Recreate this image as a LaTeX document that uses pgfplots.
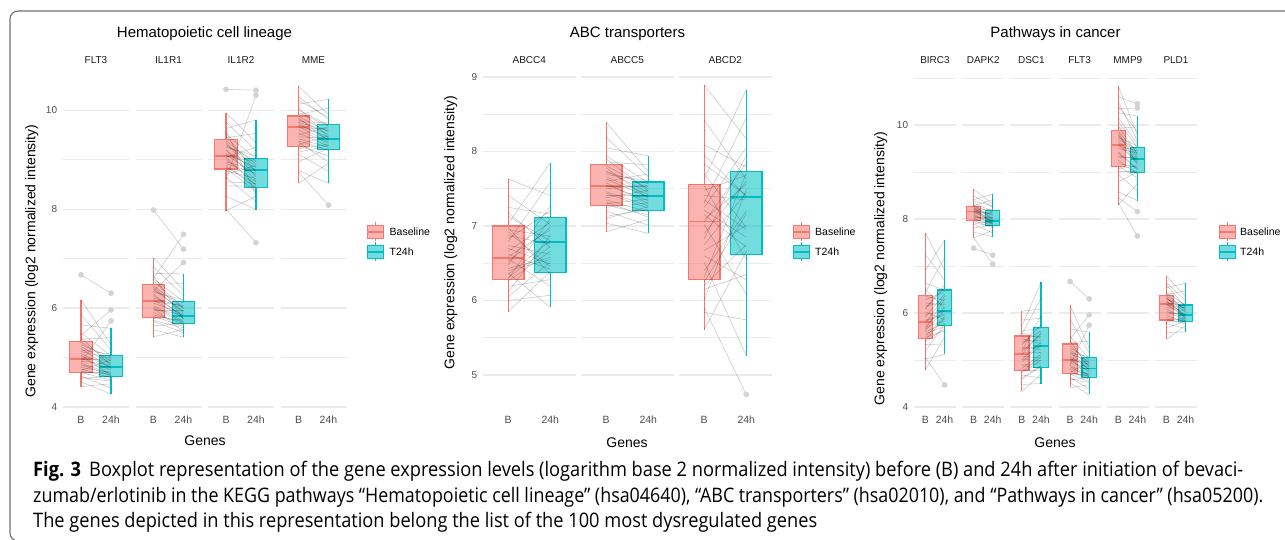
\documentclass[border=0pt]{standalone}
\usepackage{fontspec}
\setmainfont{Liberation Sans}
\newfontfamily\capfont{Open Sans}
\usepackage{graphicx}
\usepackage{pgfplots}
\usepackage{pgfplotstable}
\pgfplotsset{compat=1.18}

\definecolor{cB}{HTML}{F8766D}
\definecolor{cT}{HTML}{00BFC4}
\definecolor{gridc}{HTML}{EBEBEB}
\definecolor{tickc}{HTML}{4D4D4D}
\definecolor{stripc}{HTML}{1A1A1A}
\definecolor{outc}{HTML}{D3D3D3}
\definecolor{framec}{HTML}{6E6E6E}

% paired values per patient: b = baseline, t = 24h
\pgfplotstableread{
b t
4.41 4.47
4.51 4.26
4.58 4.62
4.63 4.38
4.68 4.71
4.70 4.54
4.77 4.59
4.83 4.82
4.89 4.67
4.96 4.97
4.99 4.75
5.08 4.80
5.15 5.07
5.22 4.88
5.31 4.93
5.37 5.40
5.50 5.03
5.66 5.59
5.87 5.15
6.16 5.26
6.67 6.30
5.45 5.96
4.90 5.74
4.72 4.66
4.80 4.70
4.86 4.63
4.93 4.85
5.02 4.90
5.05 4.64
5.12 4.99
5.18 4.78
5.26 5.01
4.74 4.95
5.40 4.84
4.60 4.52
}\tFLT

\pgfplotstableread{
b t
5.42 5.57
5.56 5.41
5.64 5.69
5.73 5.50
5.79 5.76
5.83 5.63
5.91 5.67
5.98 5.86
6.05 5.73
6.13 6.05
6.17 5.79
6.25 5.83
6.32 6.17
6.38 5.93
6.45 5.99
6.51 6.50
6.59 6.13
6.70 6.69
6.83 6.25
7.02 6.36
7.98 7.19
6.60 7.49
6.35 6.92
5.86 5.72
5.95 5.95
6.02 5.70
6.10 5.88
6.20 6.02
6.28 5.80
6.35 6.10
6.42 5.90
5.75 5.60
6.55 6.00
6.65 5.77
6.00 5.52
}\tILa

\pgfplotstableread{
b t
7.97 8.26
8.26 7.99
8.47 8.46
8.64 8.15
8.77 8.62
8.82 8.35
8.89 8.42
8.95 8.80
9.00 8.55
9.07 8.96
9.10 8.69
9.18 8.78
9.25 9.07
9.31 8.86
9.38 8.91
9.44 9.53
9.52 9.02
9.63 9.80
9.76 9.18
9.95 9.34
10.42 10.40
8.00 7.32
8.60 10.30
8.85 8.50
8.92 8.72
9.04 8.48
9.12 8.84
9.20 8.58
9.28 8.98
9.35 8.65
8.70 8.88
9.48 8.75
9.58 8.30
8.55 8.52
9.05 9.25
}\tILb

\pgfplotstableread{
b t
8.52 8.93
8.78 8.52
8.96 9.22
9.11 8.76
9.22 9.31
9.28 9.07
9.38 9.18
9.46 9.43
9.54 9.27
9.64 9.62
9.67 9.35
9.73 9.40
9.77 9.74
9.81 9.50
9.87 9.56
9.91 10.04
10.00 9.70
10.12 10.22
10.27 9.81
10.48 9.91
8.75 8.08
9.30 9.48
9.42 9.25
9.50 9.66
9.60 9.33
9.70 9.45
9.75 9.58
9.84 9.38
9.95 9.68
9.15 9.28
10.05 9.44
9.35 8.95
10.20 9.85
}\tMME

\pgfplotstableread{
b t
5.85 6.39
6.00 6.07
6.11 6.88
6.19 6.28
6.26 6.66
6.29 7.10
6.37 5.91
6.43 6.58
6.48 7.27
6.56 6.19
6.59 6.95
6.70 6.49
6.79 7.59
6.87 6.76
6.98 6.35
7.03 7.85
7.13 6.80
7.25 7.16
7.41 7.02
7.63 7.41
6.31 6.72
6.40 6.55
6.52 6.98
6.62 6.42
6.66 7.05
6.74 6.62
6.83 7.20
6.92 6.45
6.95 6.86
6.35 6.80
7.18 6.71
6.05 6.52
}\tCCa

\pgfplotstableread{
b t
6.92 7.09
7.04 6.90
7.13 7.22
7.20 7.01
7.25 7.31
7.28 7.15
7.35 7.19
7.41 7.41
7.46 7.27
7.53 7.53
7.55 7.34
7.63 7.39
7.69 7.61
7.74 7.45
7.81 7.50
7.86 7.82
7.94 7.58
8.05 7.94
8.19 7.66
8.39 7.73
7.30 7.36
7.38 7.48
7.44 7.24
7.50 7.55
7.58 7.30
7.66 7.42
7.72 7.57
7.78 7.37
7.32 7.12
7.90 7.47
7.60 7.70
7.10 7.26
}\tCCb

\pgfplotstableread{
b t
5.61 6.66
5.84 5.74
6.01 7.49
6.15 6.35
6.25 7.16
6.32 7.71
6.51 5.26
6.67 7.01
6.83 7.95
7.02 6.08
7.09 7.56
7.21 6.85
7.31 8.45
7.41 7.35
7.54 6.55
7.63 8.83
7.83 7.41
8.09 7.79
8.42 7.63
8.89 8.17
5.90 4.74
6.40 7.20
6.60 6.28
6.90 7.60
7.15 6.72
7.25 8.05
7.35 6.95
7.48 7.68
6.75 7.45
7.70 6.98
6.20 6.75
7.95 7.40
7.05 7.85
}\tCD

\pgfplotstableread{
b t
4.79 5.49
5.02 5.12
5.19 5.76
5.33 5.34
5.43 5.89
5.48 5.62
5.56 5.71
5.63 6.06
5.70 5.83
5.78 6.36
5.83 5.95
5.97 6.03
6.09 6.54
6.21 6.18
6.35 6.27
6.45 7.18
6.64 6.48
6.91 7.55
7.24 6.70
7.70 6.91
5.05 4.47
5.50 5.92
5.60 5.78
5.72 6.12
5.85 5.98
5.92 6.40
6.02 5.86
6.15 6.22
6.28 6.45
5.40 5.66
6.50 6.10
5.65 6.30
6.10 6.60
}\tBIR

\pgfplotstableread{
b t
7.59 7.76
7.72 7.62
7.81 7.87
7.89 7.70
7.94 7.91
7.97 7.81
8.02 7.85
8.06 7.97
8.10 7.89
8.15 8.11
8.17 7.93
8.19 7.96
8.21 8.20
8.23 8.03
8.25 8.07
8.28 8.41
8.33 8.17
8.41 8.53
8.50 8.25
8.63 8.32
7.38 7.23
7.60 7.04
7.99 7.92
8.04 8.04
8.08 7.88
8.12 8.14
8.14 7.95
8.18 8.00
8.20 8.09
8.24 7.90
8.27 8.15
8.30 7.98
7.92 7.84
8.38 8.28
}\tDAP

\pgfplotstableread{
b t
4.33 4.70
4.48 4.50
4.59 4.86
4.68 4.62
4.75 5.07
4.79 4.77
4.88 4.82
4.95 5.32
5.02 4.98
5.11 5.58
5.15 5.16
5.24 5.28
5.32 5.75
5.40 5.42
5.49 5.50
5.54 6.32
5.62 5.68
5.72 6.65
5.85 5.89
6.04 6.08
4.82 5.12
4.90 4.92
5.00 5.38
5.08 5.04
5.18 5.55
5.28 5.22
5.36 5.62
5.45 5.35
4.72 5.00
5.58 5.46
5.20 5.95
4.62 4.88
}\tDSC

\pgfplotstableread{
b t
8.30 8.75
8.58 8.39
8.79 9.00
8.95 8.60
9.07 9.13
9.13 8.87
9.25 8.96
9.34 9.28
9.43 9.07
9.55 9.45
9.59 9.19
9.66 9.26
9.73 9.56
9.79 9.35
9.86 9.40
9.93 9.96
10.07 9.52
10.26 10.19
10.50 9.66
10.83 9.79
10.60 10.45
10.35 10.36
8.45 8.16
8.35 7.64
9.18 9.10
9.30 9.32
9.40 9.05
9.50 9.40
9.62 9.22
9.70 9.48
9.76 9.30
9.84 9.16
9.98 9.38
10.15 9.60
9.02 9.02
10.40 9.85
}\tMMP

\pgfplotstableread{
b t
5.44 5.73
5.58 5.60
5.69 5.82
5.77 5.67
5.83 5.89
5.87 5.77
5.95 5.80
6.02 5.97
6.09 5.86
6.17 6.11
6.20 5.92
6.24 5.95
6.28 6.19
6.32 6.02
6.36 6.07
6.39 6.47
6.45 6.16
6.54 6.63
6.64 6.26
6.79 6.35
5.90 5.84
5.98 6.00
6.05 5.83
6.12 6.04
6.18 5.90
6.22 6.14
6.26 5.94
6.30 6.09
6.34 5.88
5.80 5.85
6.42 6.05
6.60 6.12
}\tPLD

\pgfplotsset{
  facet/.style={
    scale only axis, anchor=south west, height=339.5pt,
    xmin=0.4, xmax=2.6, xtick={1,2}, xticklabels={B,24h},
    axis line style={draw=none}, tick style={draw=none},
    ymajorgrids, yminorgrids,
    major grid style={gridc, line width=1.1pt},
    minor grid style={gridc, line width=0.55pt},
    /pgf/number format/assume math mode=true,
    xticklabel style={font=\fontsize{10.5}{12}\selectfont, text=tickc, yshift=-2.8pt},
    yticklabel style={font=\fontsize{10}{12}\selectfont, text=tickc, xshift=-2.4pt},
    every axis title/.style={at={(0.5,1)}, anchor=base, yshift=6pt,
      font=\fontsize{10}{12}\selectfont, text=stripc},
  },
  fpa/.style={ymin=3.95, ymax=10.81, ytick={4,6,8,10}, minor ytick={5,7,9,11}},
  fpb/.style={ymin=4.537, ymax=9.094, ytick={5,6,7,8,9}, minor ytick={5.5,6.5,7.5,8.5}},
  fpc/.style={ymin=3.947, ymax=11.17, ytick={4,6,8,10}, minor ytick={5,7,9,11}},
  noy/.style={yticklabels={,,}},
  pair/.style={draw=black, line width=0.6pt, draw opacity=0.2},
}

% one box: colour, left, centre, right, lower whisker, q1, median, q3, upper whisker
\newcommand{\bx}[9]{%
  \addplot[draw=#1, line width=1.1pt] coordinates {(#3,#5)(#3,#6)};
  \addplot[draw=#1, line width=1.1pt] coordinates {(#3,#8)(#3,#9)};
  \addplot[draw=#1, fill=#1, fill opacity=0.55, line width=1.1pt, line cap=rect]
    coordinates {(#2,#6)(#4,#6)(#4,#8)(#2,#8)(#2,#6)};
  \addplot[draw=#1, line width=1.8pt] coordinates {(#2,#7)(#4,#7)};}
\newcommand{\bB}[5]{\bx{cB}{0.625}{1}{1.375}{#1}{#2}{#3}{#4}{#5}}
\newcommand{\bT}[5]{\bx{cT}{1.625}{2}{2.375}{#1}{#2}{#3}{#4}{#5}}
\newcommand{\pairs}[1]{\addplot[pair, quiver={u=1, v=\thisrow{t}-\thisrow{b}}] table[x expr=1, y=b] {#1};}
\newcommand{\outl}[1]{\addplot[only marks, mark=*, mark size=2.6pt, color=outc, mark options={draw=none}] coordinates {#1};}
\newcommand{\lkey}[3]{%
  \begin{scope}[shift={(#1,#2)}]
    \draw[#3, line width=1.1pt] (8,6.2) -- (8,9.5) (8,-6.2) -- (8,-9.5);
    \draw[#3, line width=1.1pt, fill=#3, fill opacity=0.55] (0,-6.2) rectangle (16,6.2);
    \draw[#3, line width=1.6pt] (0,0) -- (16,0);
  \end{scope}}
\newcommand{\legendat}[2]{%
  \lkey{#1}{308}{cB}\lkey{#1}{288}{cT}
  \node[anchor=base west, inner sep=0, font=\fontsize{10.5}{12}\selectfont] at (#2,304.3) {Baseline};
  \node[anchor=base west, inner sep=0, font=\fontsize{10.5}{12}\selectfont] at (#2,284.8) {T24h};}

\begin{document}
\begin{tikzpicture}
\useasboundingbox (0pt,0pt) rectangle (1285pt,540pt);

% ---------- Hematopoietic cell lineage
\begin{axis}[facet, fpa, at={(63pt,130.5pt)}, width=66pt, title={FLT3}]
\bB{4.41}{4.69}{4.97}{5.33}{6.16}
\bT{4.26}{4.61}{4.81}{5.04}{5.59}
\pairs{\tFLT}
\outl{(1,6.67)(2,6.30)(2,5.96)(2,5.74)}
\end{axis}
\begin{axis}[facet, fpa, noy, at={(135.5pt,130.5pt)}, width=66pt, title={IL1R1}]
\bB{5.42}{5.81}{6.15}{6.48}{7.02}
\bT{5.41}{5.68}{5.84}{6.14}{6.69}
\pairs{\tILa}
\outl{(1,7.98)(2,7.49)(2,7.19)(2,6.92)}
\end{axis}
\begin{axis}[facet, fpa, noy, at={(208pt,130.5pt)}, width=66pt, title={IL1R2}]
\bB{7.97}{8.81}{9.08}{9.41}{9.95}
\bT{7.99}{8.44}{8.79}{9.03}{9.80}
\pairs{\tILb}
\outl{(1,10.42)(2,10.40)(2,10.30)(2,7.32)}
\end{axis}
\begin{axis}[facet, fpa, noy, at={(280.5pt,130.5pt)}, width=66pt, title={MME}]
\bB{8.52}{9.26}{9.66}{9.88}{10.48}
\bT{8.52}{9.21}{9.41}{9.71}{10.22}
\pairs{\tMME}
\outl{(2,8.08)}
\end{axis}

% ---------- ABC transporters
\begin{axis}[facet, fpb, at={(483pt,130.5pt)}, width=92.5pt, title={ABCC4}]
\bB{5.85}{6.28}{6.57}{7.00}{7.63}
\bT{5.91}{6.37}{6.78}{7.12}{7.85}
\pairs{\tCCa}
\end{axis}
\begin{axis}[facet, fpb, noy, at={(581pt,130.5pt)}, width=92.5pt, title={ABCC5}]
\bB{6.92}{7.27}{7.54}{7.83}{8.39}
\bT{6.90}{7.21}{7.40}{7.59}{7.94}
\pairs{\tCCb}
\end{axis}
\begin{axis}[facet, fpb, noy, at={(679pt,130.5pt)}, width=92.5pt, title={ABCD2}]
\bB{5.61}{6.28}{7.06}{7.56}{8.89}
\bT{5.26}{6.62}{7.39}{7.73}{8.83}
\pairs{\tCD}
\outl{(2,4.74)}
\end{axis}

% ---------- Pathways in cancer
\begin{axis}[facet, fpc, at={(914pt,130.5pt)}, width=42pt, title={BIRC3}]
\bB{4.79}{5.46}{5.80}{6.38}{7.70}
\bT{5.12}{5.74}{6.04}{6.49}{7.55}
\pairs{\tBIR}
\outl{(2,4.47)}
\end{axis}
\begin{axis}[facet, fpc, noy, at={(962.2pt,130.5pt)}, width=42pt, title={DAPK2}]
\bB{7.59}{7.96}{8.16}{8.26}{8.63}
\bT{7.62}{7.86}{7.96}{8.18}{8.53}
\pairs{\tDAP}
\outl{(1,7.38)(2,7.23)(2,7.04)}
\end{axis}
\begin{axis}[facet, fpc, noy, at={(1010.4pt,130.5pt)}, width=42pt, title={DSC1}]
\bB{4.33}{4.77}{5.13}{5.51}{6.04}
\bT{4.50}{4.84}{5.30}{5.70}{6.65}
\pairs{\tDSC}
\end{axis}
\begin{axis}[facet, fpc, noy, at={(1058.6pt,130.5pt)}, width=42pt, title={FLT3}]
\bB{4.43}{4.72}{5.00}{5.34}{6.17}
\bT{4.27}{4.63}{4.82}{5.06}{5.59}
\pairs{\tFLT}
\outl{(1,6.67)(2,6.30)(2,5.96)(2,5.74)}
\end{axis}
\begin{axis}[facet, fpc, noy, at={(1106.8pt,130.5pt)}, width=42pt, title={MMP9}]
\bB{8.30}{9.11}{9.57}{9.88}{10.83}
\bT{8.39}{8.99}{9.27}{9.53}{10.19}
\pairs{\tMMP}
\outl{(2,10.45)(2,10.36)(2,8.16)(2,7.64)}
\end{axis}
\begin{axis}[facet, fpc, noy, at={(1155pt,130.5pt)}, width=42pt, title={PLD1}]
\bB{5.44}{5.85}{6.19}{6.37}{6.79}
\bT{5.60}{5.81}{5.96}{6.17}{6.63}
\pairs{\tPLD}
\end{axis}

\begin{scope}[x=1pt, y=1pt]
\draw[line width=1.1pt, draw=framec] (1290,529) -- (18,529) arc[start angle=90, end angle=180, radius=8]
  -- (10,7) arc[start angle=180, end angle=270, radius=8] -- (1290,-1);
% ---------- titles, axis titles, legends
\begin{scope}[every node/.style={inner sep=0}]
\node[anchor=base, font=\fontsize{15}{18}\selectfont] at (204.5,502.3) {Hematopoietic cell lineage};
\node[anchor=base, font=\fontsize{15}{18}\selectfont] at (627.5,502.3) {ABC transporters};
\node[anchor=base, font=\fontsize{15}{18}\selectfont] at (1055.5,502.3) {Pathways in cancer};
\node[anchor=base, font=\fontsize{14}{16}\selectfont] at (205,94.3) {Genes};
\node[anchor=base, font=\fontsize{14}{16}\selectfont] at (627,92.5) {Genes};
\node[anchor=base, font=\fontsize{14}{16}\selectfont] at (1055,92.5) {Genes};
\node[rotate=90, font=\fontsize{14}{16}\selectfont] at (31.7,279) {Gene expression (log2 normalized intensity)};
\node[rotate=90, font=\fontsize{14}{16}\selectfont] at (450.7,307.5) {Gene expression (log2 normalized intensity)};
\node[rotate=90, font=\fontsize{14}{16}\selectfont] at (880.7,271.3) {Gene expression (log2 normalized intensity)};
\end{scope}
\legendat{367.5}{389.5}
\legendat{793.3}{815}
\legendat{1219.3}{1240}

% ---------- caption
\node[anchor=base west, inner sep=0] at (33,63) {\resizebox{1210pt}{\height}{\capfont\fontsize{20}{24}\selectfont
  \textbf{Fig. 3}\hspace{0.45em}Boxplot representation of the gene expression levels (logarithm base 2 normalized intensity) before (B) and 24h after initiation of bevaci-}};
\node[anchor=base west, inner sep=0] at (33,37) {\resizebox{1230pt}{\height}{\capfont\fontsize{20}{24}\selectfont
  zumab/erlotinib in the KEGG pathways “Hematopoietic cell lineage” (hsa04640), “ABC transporters” (hsa02010), and “Pathways in cancer” (hsa05200).}};
\node[anchor=base west, inner sep=0] at (33,12) {\resizebox{784pt}{\height}{\capfont\fontsize{20}{24}\selectfont
  The genes depicted in this representation belong the list of the 100 most dysregulated genes}};
\end{scope}
\end{tikzpicture}
\end{document}
